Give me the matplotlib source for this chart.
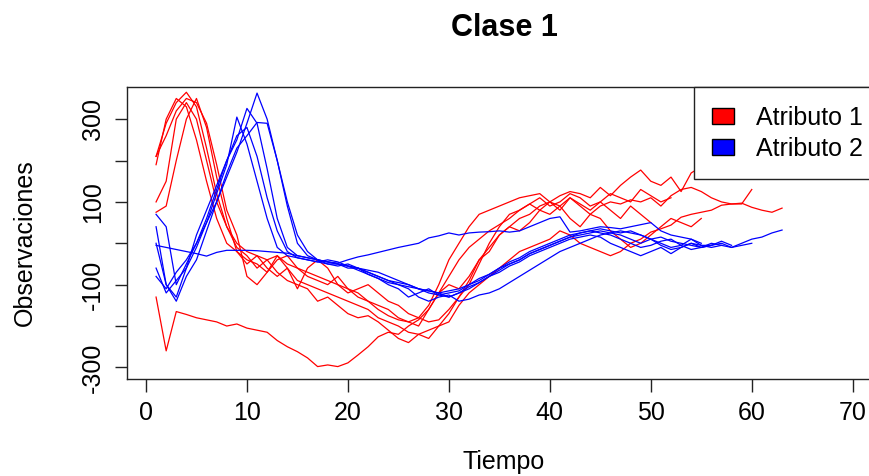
import numpy as np
import matplotlib
matplotlib.use("Agg")
import matplotlib.pyplot as plt
from matplotlib.patches import Patch

plt.rcParams['font.family'] = ['Liberation Sans', 'DejaVu Sans']

# ===== DATA =====
# Atributo 1 (red)
r1 = [-130, -260, -165, -172, -180, -185, -190, -200, -195, -205, -210, -215, -235, -250, -262,
      -277, -298, -294, -298, -289, -270, -250, -226, -215, -220, -200, -185, -160, -120, -80,
      -40, -10, 10, 30, 45, 60, 80, 95, 80, 100, 90, 110, 95, 80, 100, 120, 110, 100, 130, 115,
      100, 110]
r2 = [210, 290, 340, 365, 330, 230, 120, 40, 0, -20, -30, -40, -30, -50, -60, -70, -80, -90,
      -100, -110, -120, -140, -160, -175, -185, -190, -180, -150, -100, -40, 0, 40, 70, 80, 90,
      100, 110, 115, 120, 100, 115, 125, 120, 110, 135, 115, 140, 160, 177, 150, 140, 160, 125,
      170, 185, 193, 172]
r3 = [190, 300, 350, 330, 250, 150, 60, 0, -20, -50, -30, -60, -80, -60, -90, -100, -110, -120,
      -130, -140, -150, -160, -180, -190, -200, -215, -220, -210, -200, -170, -130, -90, -40,
      -10, 20, 40, 30, 50, 80, 70, 90, 60, 40, 70, 90, 100, 95, 105, 100, 110, 90, 115, 130, 135,
      125, 110, 100, 95, 95, 130]
r4 = [100, 150, 300, 340, 300, 200, 100, 40, -10, -30, -60, -40, -70, -90, -100, -110, -140,
      -130, -150, -170, -180, -175, -190, -210, -230, -240, -220, -230, -200, -190, -150, -120,
      -100, -80, -60, -40, -20, -10, 0, 10, 30, 20, 0, -10, -20, -30, -20, 0, 10, 27, 35, 44, 63,
      70, 75, 80, 92, 95, 97, 87, 80, 75, 85]
r5 = [75, 90, 200, 300, 350, 280, 160, 60, -20, -40, -50, -70, -40, -30, -60, -80, -90, -100,
      -80, -110, -130, -140, -150, -160, -180, -190, -200, -160, -120, -100, -110, -80, -40, -20,
      20, 40, 60, 70, 90, 100, 80, 110, 90, 70, 60, 30, 10, -10, 0, 20, 40, 60, 50, 40, 60]
r6 = [210, 260, 320, 350, 340, 290, 190, 80, 20, -80, -100, -70, -30, -60, -110, -60, -40, -60,
      -100, -120, -110, -100, -120, -140, -150, -170, -180, -190, -185, -160, -130, -100, -50, 0,
      40, 70, 80, 95, 110, 90, 100, 120, 110, 90, 100, 80, 60, 90, 70, 50]

# Atributo 2 (blue)
b1 = [70, 40, -100, -50, 0, 50, 100, 160, 220, 290, 363, 300, 200, 90, 0, -30, -40, -45, -50,
      -55, -60, -65, -70, -80, -90, -100, -110, -115, -120, -130, -120, -110, -95, -80, -65, -50,
      -40, -25, -15, -5, 5, 15, 25, 30, 35, 30, 25, 30, 20, 10, 15, 5, 0, -5, -10, 0, -5, -10, 0,
      10, 15, 25, 32]
b2 = [-60, -120, -90, -60, 20, 80, 140, 200, 250, 326, 290, 180, 60, -10, -30, -35, -40, -50,
      -55, -50, -60, -70, -80, -90, -100, -105, -110, -115, -120, -115, -110, -100, -90, -75,
      -60, -45, -35, -20, -10, 0, 10, 20, 25, 30, 25, 20, 10, 0, -10, -5, 5, 10, -5, -15, -10,
      -5, 0, -10, -5, 0]
b3 = [0, -100, -140, -80, -40, 30, 100, 170, 230, 260, 292, 290, 200, 100, 20, -20, -40, -45,
      -50, -60, -60, -75, -85, -100, -110, -130, -120, -110, -125, -130, -120, -105, -95, -80,
      -70, -55, -45, -30, -20, -10, 0, 10, 15, 20, 15, 0, -10, -20, -30, -20, -10, -25, -10, 0,
      -10, -5, 5, -5]
b4 = [40, -100, -130, -60, -10, 50, 120, 190, 305, 240, 150, 60, -10, -30, -35, -40, -45, -40,
      -45, -55, -65, -75, -85, -95, -100, -110, -130, -140, -130, -125, -140, -135, -125, -120,
      -110, -95, -80, -65, -50, -35, -20, -10, 0, 10, 20, 25, 30, 25, 20, 10, 0, -10, -5, 10, -5,
      -10, -5]
b5 = [-5, -10, -15, -20, -25, -31, -22, -17, -17, -17, -18, -20, -22, -24, -30, -35, -40, -45,
      -48, -40, -33, -28, -22, -16, -10, -5, 0, 13, 18, 25, 20, 25, 27, 28, 30, 27, 30, 40, 50,
      60, 64, 27, 30, 35, 40, 38, 35, 40, 45, 50, 30, 20, 15, 10, 0]
b6 = [-80, -110, -70, -40, 0, 60, 130, 200, 260, 280, 210, 110, 30, -20, -35, -40, -45, -50,
      -50, -55, -60, -70, -80, -90, -95, -100, -110, -120, -125, -120, -115, -100, -85, -75, -60,
      -50, -40, -25, -15, -5, 5, 15, 20, 25, 30, 25, 20, 10, 0, 10, -5, -15, -10, 0, -5, -5]

red_series = [r1, r2, r3, r4, r5, r6]
blue_series = [b1, b2, b3, b4, b5, b6]
legend_labels = ["Atributo 1", "Atributo 2"]
x_ticks = [0, 10, 20, 30, 40, 50, 60, 70]
y_ticks = [-300, -200, -100, 0, 100, 200, 300]
y_tick_labels = ["-300", "", "-100", "", "100", "", "300"]

# ===== FIGURE =====
W, H = 869, 476
fig = plt.figure(figsize=(W / 100, H / 100), dpi=100)
ax = fig.add_axes([127.3 / W, (H - 379) / H, (881 - 127.3) / W, (379 - 87.3) / H])

for s in red_series:
    ax.plot(np.arange(1, len(s) + 1), s, color='#FF0000', lw=0.9)
for s in blue_series:
    ax.plot(np.arange(1, len(s) + 1), s, color='#0000FF', lw=0.9)

ax.set_xlim(-1.85, 72.8)
ax.set_ylim(-328, 377)
ax.set_xticks(x_ticks)
ax.set_yticks(y_ticks)
ax.set_yticklabels(y_tick_labels, rotation=90, va='center')
ax.tick_params(axis='both', labelsize=18, length=9, width=1, color='#222222')
ax.tick_params(axis='x', pad=7)
ax.tick_params(axis='y', pad=7)
for sp in ax.spines.values():
    sp.set_linewidth(1)
    sp.set_color('#222222')

handles = [Patch(facecolor='#FF0000', edgecolor='black'),
           Patch(facecolor='#0000FF', edgecolor='black')]
leg = ax.legend(handles, legend_labels, loc='upper right', bbox_to_anchor=(1, 1),
                borderaxespad=0, fontsize=18, fancybox=False, framealpha=1,
                edgecolor='#222222', handlelength=0.85, handleheight=0.6,
                handletextpad=0.88, labelspacing=0.28, borderpad=0.74)
leg.get_frame().set_linewidth(1)

fig.text(504 / W, 1 - 28 / H, "Clase 1", ha='center', va='center', fontsize=22, fontweight='bold')
fig.text(504 / W, 1 - 462 / H, "Tiempo", ha='center', va='center', fontsize=18)
fig.text(25 / W, 1 - 243 / H, "Observaciones", ha='center', va='center', fontsize=18, rotation=90)

fig.savefig("out.png", dpi=100)
